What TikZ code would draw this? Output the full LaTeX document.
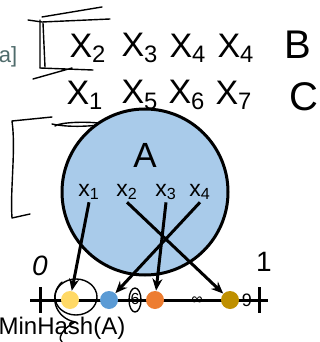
\documentclass[tikz,border=0pt]{standalone}
\usepackage{fontspec}
\setmainfont{Liberation Sans}
\usetikzlibrary{arrows.meta,positioning}
\definecolor{setfill}{HTML}{A9CBEA}
\definecolor{hyellow}{HTML}{FFD966}
\definecolor{hblue}{HTML}{5B9BD5}
\definecolor{horange}{HTML}{ED7D31}
\definecolor{hgold}{HTML}{BF9000}
\definecolor{slate}{HTML}{4F6B6B}

\begin{document}
\begin{tikzpicture}[x=0.5pt,y=-0.5pt,
  ink/.style={line width=0.7pt,line cap=round,line join=round},
  hw/.style={font=\fontsize{17}{17}\selectfont,inner sep=0pt},
  elem/.style={font=\fontsize{11.5}{12}\selectfont,inner sep=1pt},
  hdot/.style={circle,minimum size=9pt,inner sep=0pt},
  arr/.style={-{Stealth[length=6pt,width=5pt]},line width=1.5pt}]
  \useasboundingbox (0,0) rectangle (320,342);
  % handwritten rows
  \node[font=\fontsize{11}{11}\selectfont,text=slate,inner sep=0pt] (cut) at (8,57) {a]};
  \node[hw] (b2) at (88,48) {X\textsubscript{2}};
  \node[hw] (b3) at (140,48) {X\textsubscript{3}};
  \node[hw] (b4) at (188,48) {X\textsubscript{4}};
  \node[hw] (b7) at (236,48) {X\textsubscript{4}};
  \node[hw,font=\fontsize{20}{20}\selectfont] (labB) at (298,45) {B};
  \node[hw] (c1) at (85,95) {X\textsubscript{1}};
  \node[hw] (c5) at (140,95) {X\textsubscript{5}};
  \node[hw] (c6) at (187,95) {X\textsubscript{6}};
  \node[hw] (c7) at (234,95) {X\textsubscript{7}};
  \node[hw,font=\fontsize{20}{20}\selectfont] (labC) at (304,97) {C};
  % brackets
  \draw[ink] (42,17) -- (102,7) (28,20) -- (42,22) -- (110,19);
  \draw[ink] (40,20) -- (40,68) (43,23) -- (45,67);
  \draw[ink] (40,68) -- (93,70) (33,79) -- (72,68);
  \draw[ink] (52,117) -- (12,121) .. controls (16,150) and (10,190) .. (12,218) -- (30,214);
  \draw[ink] (52,124) .. controls (70,128) and (95,126) .. (105,124) .. controls (90,121) and (60,122) .. (55,126);
  % Set A
  \node[circle,draw,line width=1.5pt,fill=setfill,minimum size=83pt] (setA) at (145,192) {};
  \node[font=\fontsize{17.5}{18}\selectfont,inner sep=0pt] (nameA) at (145,155) {A};
  \node[elem] (x1) at (89,192) {x\textsubscript{1}};
  \node[elem] (x2) at (127,192) {x\textsubscript{2}};
  \node[elem] (x3) at (166,192) {x\textsubscript{3}};
  \node[elem] (x4) at (200,192) {x\textsubscript{4}};
  % number line
  \coordinate (lineL) at (30,300);
  \coordinate (lineR) at (268,300);
  \draw[line width=1.5pt] (lineL) -- (lineR);
  \draw[line width=1.5pt] (40,287) -- (40,313) (259,287) -- (259,313);
  \node[hdot,fill=hyellow] (d1) at (70,300) {};
  \node[hdot,fill=hblue] (d2) at (109,300) {};
  \node[hdot,fill=horange] (d3) at (155,300) {};
  \node[hdot,fill=hgold] (d4) at (230,300) {};
  \node[hw,font=\fontsize{14}{14}\selectfont\itshape] (zero) at (40,266) {0};
  \node[hw,font=\fontsize{14}{14}\selectfont] (one) at (264,262) {1};
  \node[font=\fontsize{8}{8}\selectfont,inner sep=0pt] (s6) at (135,299) {6};
  \node[font=\fontsize{8}{8}\selectfont,inner sep=0pt] (s8) at (197,301) {∞};
  \node[font=\fontsize{9}{9}\selectfont,inner sep=0pt] (s9) at (247,300) {9};
  \draw[ink] (135,300) ellipse (3pt and 6pt);
  \draw[ink] (76,297) ellipse (21 and 18);
  \draw[ink] (62,282) .. controls (48,295) and (55,318) .. (75,322) .. controls (60,330) and (58,340) .. (62,342);
  % arrows
  \draw[arr] (x1.south) -- (d1);
  \draw[arr] (x2.south) -- (d4);
  \draw[arr] (x3.south) -- (d3);
  \draw[arr] (x4.south) -- (d2);
  \node[font=\fontsize{12}{12}\selectfont,inner sep=0pt] (mh) at (62,328) {MinHash(A)};
\end{tikzpicture}
\end{document}
